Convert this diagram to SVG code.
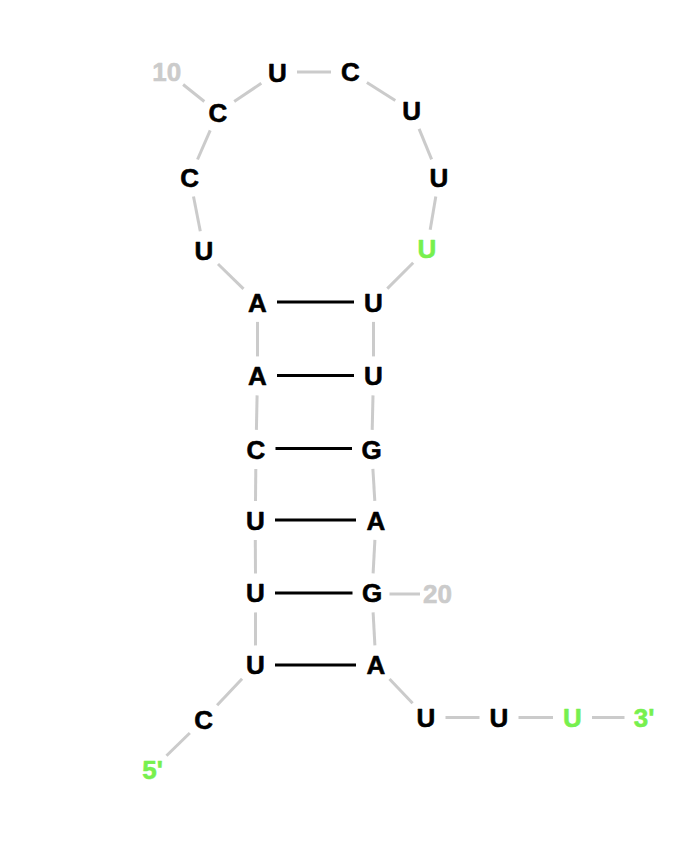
<svg xmlns="http://www.w3.org/2000/svg" width="679" height="852" viewBox="0 0 679 852">
<style>
text{font-family:"Liberation Sans",Arial,Helvetica,sans-serif;font-weight:bold;font-size:26px;text-anchor:middle;stroke-width:0.6;stroke-linejoin:round}
.nt{fill:#000;stroke:#000}
.hl{fill:#77f04e;stroke:#77f04e}
.num{fill:#cbcbcb;stroke:#cbcbcb}
.bb{stroke:#cbcbcb;stroke-width:3;fill:none}
.bp{stroke:#000;stroke-width:3;fill:none}
</style>
<rect width="679" height="852" fill="#fff"/>
<g id="connectors">
<g id="backbone">
<line class="bb" x1="166.5" y1="755.8" x2="189.8" y2="733"/>
<line class="bb" x1="217.1" y1="705.3" x2="242.1" y2="678.8"/>
<line class="bb" x1="255.5" y1="645.4" x2="255.5" y2="612.4"/>
<line class="bb" x1="255.5" y1="573.4" x2="255.3" y2="539.9"/>
<line class="bb" x1="255.5" y1="500.9" x2="255.8" y2="468.9"/>
<line class="bb" x1="256.4" y1="429.9" x2="257.1" y2="395.4"/>
<line class="bb" x1="257.5" y1="356.4" x2="257.5" y2="321.9"/>
<line class="bb" x1="243.5" y1="288.8" x2="218" y2="264"/>
<line class="bb" x1="200.3" y1="231.3" x2="193.5" y2="196.5"/>
<line class="bb" x1="197.5" y1="159.5" x2="210.2" y2="130.3"/>
<line class="bb" x1="234.2" y1="101.5" x2="261.3" y2="83.3"/>
<line class="bb" x1="297" y1="72" x2="331" y2="72"/>
<line class="bb" x1="366.9" y1="82.4" x2="395.3" y2="100.4"/>
<line class="bb" x1="419.1" y1="128.9" x2="431.6" y2="159.4"/>
<line class="bb" x1="435.8" y1="196.6" x2="430.2" y2="229.7"/>
<line class="bb" x1="413.2" y1="262.7" x2="387.3" y2="288.6"/>
<line class="bb" x1="373.5" y1="321.9" x2="373.5" y2="356.4"/>
<line class="bb" x1="373" y1="395.4" x2="372.2" y2="429.9"/>
<line class="bb" x1="372.9" y1="468.9" x2="374.8" y2="500.9"/>
<line class="bb" x1="374.9" y1="539.9" x2="373.1" y2="573.4"/>
<line class="bb" x1="373.1" y1="612.4" x2="374.9" y2="645.4"/>
<line class="bb" x1="389.5" y1="679" x2="412.6" y2="703.3"/>
<line class="bb" x1="445.5" y1="717.5" x2="479.5" y2="717.5"/>
<line class="bb" x1="518.5" y1="717.5" x2="553" y2="717.5"/>
<line class="bb" x1="592" y1="717.5" x2="624.5" y2="717.5"/>
<line class="bb" x1="183.1" y1="84.5" x2="204.3" y2="101.5"/>
<line class="bb" x1="389.5" y1="594" x2="420" y2="594"/>
</g>
<g id="pairs">
<line class="bp" x1="277" y1="302" x2="354" y2="302"/>
<line class="bp" x1="277" y1="375.5" x2="354" y2="375.5"/>
<line class="bp" x1="275.5" y1="448.5" x2="352" y2="448.5"/>
<line class="bp" x1="275" y1="520" x2="356" y2="520"/>
<line class="bp" x1="275" y1="593" x2="352.5" y2="593"/>
<line class="bp" x1="275" y1="665" x2="356" y2="665"/>
</g>
</g>
<g id="labels">
<text id="five-prime" class="hl" x="152.5" y="778.7">5'</text>
<text id="three-prime" class="hl" x="644" y="726.7">3'</text>
<text id="num10" class="num" x="166.7" y="80.7">10</text>
<text id="num20" class="num" x="437.5" y="602.7">20</text>
</g>
<g id="n1"><text class="nt" x="203.7" y="728.7">C</text></g>
<g id="n2"><text class="nt" x="255.5" y="674.2">U</text></g>
<g id="n3"><text class="nt" x="255.5" y="602.2">U</text></g>
<g id="n4"><text class="nt" x="255.3" y="529.7">U</text></g>
<g id="n5"><text class="nt" x="256" y="458.7">C</text></g>
<g id="n6"><text class="nt" x="257.5" y="385.2">A</text></g>
<g id="n7"><text class="nt" x="257.5" y="311.7">A</text></g>
<g id="n8"><text class="nt" x="204" y="259.7">U</text></g>
<g id="n9"><text class="nt" x="189.7" y="186.7">C</text></g>
<g id="n10"><text class="nt" x="218" y="121.7">C</text></g>
<g id="n11"><text class="nt" x="277.5" y="81.7">U</text></g>
<g id="n12"><text class="nt" x="350.5" y="81.2">C</text></g>
<g id="n13"><text class="nt" x="411.7" y="120.2">U</text></g>
<g id="n14"><text class="nt" x="439" y="186.7">U</text></g>
<g id="n15"><text class="hl" x="427" y="258.2">U</text></g>
<g id="n16"><text class="nt" x="373.5" y="311.7">U</text></g>
<g id="n17"><text class="nt" x="373.5" y="385.2">U</text></g>
<g id="n18"><text class="nt" x="371.7" y="458.7">G</text></g>
<g id="n19"><text class="nt" x="376" y="529.7">A</text></g>
<g id="n20"><text class="nt" x="372" y="602.2">G</text></g>
<g id="n21"><text class="nt" x="376" y="674.2">A</text></g>
<g id="n22"><text class="nt" x="426" y="726.7">U</text></g>
<g id="n23"><text class="nt" x="499" y="726.7">U</text></g>
<g id="n24"><text class="hl" x="572.5" y="726.7">U</text></g>
</svg>
